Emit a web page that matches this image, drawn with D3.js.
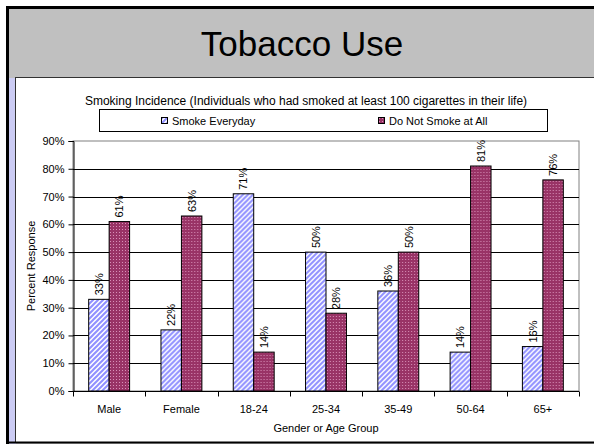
<!DOCTYPE html>
<html><head><meta charset="utf-8">
<script src="https://cdn.jsdelivr.net/npm/d3@7"></script>
<style>html,body{margin:0;padding:0;background:#fff;}svg{display:block;font-family:Arial,"Liberation Sans",sans-serif;}</style>
</head><body>
<svg id="c" width="594" height="444"></svg>
<script>
const categories = ["Male","Female","18-24","25-34","35-49","50-64","65+"];
const smokeEveryday = [33,22,71,50,36,14,16];
const doNotSmoke = [61,63,14,28,50,81,76];
const seriesNames = ["Smoke Everyday","Do Not Smoke at All"];
const yTicks = [0,10,20,30,40,50,60,70,80,90];
const titleText = "Tobacco Use";
const subtitleText = "Smoking Incidence (Individuals who had smoked at least 100 cigarettes in their life)";
const xTitle = "Gender or Age Group";
const yTitle = "Percent Response";

const svg = d3.select("#c");
const defs = svg.append("defs");
// hatch pattern for blue series
const ph = defs.append("pattern").attr("id","hatch").attr("patternUnits","userSpaceOnUse")
  .attr("width",5).attr("height",5);
ph.append("rect").attr("width",5).attr("height",5).attr("fill","#fff");
ph.append("path").attr("d","M-1,1 l2,-2 M0,5 l5,-5 M4,6 l2,-2").attr("stroke","#9090ff").attr("stroke-width",2);
// dotted pattern for red series
const pd = defs.append("pattern").attr("id","dots").attr("patternUnits","userSpaceOnUse")
  .attr("width",3).attr("height",3);
pd.append("rect").attr("width",3).attr("height",3).attr("fill","#993366");
pd.append("rect").attr("x",1).attr("y",1).attr("width",1).attr("height",1).attr("fill","#d890b8");
const fills = ["url(#hatch)","url(#dots)"];

// frame
svg.append("rect").attr("x",0).attr("y",0).attr("width",594).attr("height",444).attr("fill","#fff");
svg.append("rect").attr("x",7.5).attr("y",7.5).attr("width",600).attr("height",450)
  .attr("fill","#c0c0c0").attr("stroke","#000").attr("stroke-width",3);
svg.append("rect").attr("x",9).attr("y",78).attr("width",7).attr("height",366).attr("fill","#ccccf4");
svg.append("rect").attr("x",15.5).attr("y",77.5).attr("width",600).attr("height",365)
  .attr("fill","#fff").attr("stroke","#333").attr("stroke-width",1);
svg.append("line").attr("x1",7).attr("x2",594).attr("y1",442.5).attr("y2",442.5).attr("stroke","#000").attr("stroke-width",2);

svg.append("text").attr("x",302).attr("y",56).attr("text-anchor","middle")
  .attr("font-size",35).attr("fill","#000").text(titleText);

// plot
const L=73, R=579, T=141, B=391;
const y = d3.scaleLinear().domain([0,90]).range([B,T]);
const x0 = d3.scaleBand().domain(categories).range([L,R]).padding(0);
const x1 = d3.scaleBand().domain([0,1]).range([x0.bandwidth()*0.217, x0.bandwidth()*0.783]).padding(0);

const g = svg.append("g");
g.append("rect").attr("x",L).attr("y",T).attr("width",R-L).attr("height",B-T).attr("fill","#fff").attr("stroke","#808080");
g.selectAll(".grid").data(yTicks.filter(d=>d>0&&d<90)).join("line")
  .attr("x1",L).attr("x2",R).attr("y1",d=>Math.round(y(d))+0.5).attr("y2",d=>Math.round(y(d))+0.5)
  .attr("stroke","#000").attr("stroke-width",1);

const data = categories.map((c,i)=>({c, v:[smokeEveryday[i], doNotSmoke[i]]}));
const grp = g.selectAll(".grp").data(data).join("g").attr("transform",d=>`translate(${x0(d.c)},0)`);
grp.selectAll("rect").data(d=>d.v.map((v,k)=>({v,k}))).join("rect")
  .attr("x",d=>x1(d.k)).attr("width",x1.bandwidth())
  .attr("y",d=>y(d.v)).attr("height",d=>B-y(d.v))
  .attr("fill",d=>fills[d.k]).attr("stroke","#000").attr("stroke-width",1);
grp.selectAll("text").data(d=>d.v.map((v,k)=>({v,k}))).join("text")
  .attr("transform",d=>`translate(${x1(d.k)+x1.bandwidth()/2+4},${y(d.v)-4}) rotate(-90)`)
  .attr("font-size",11).attr("fill","#000").text(d=>d.v+"%");

// axes
const yAxis = d3.axisLeft(y).tickValues(yTicks).tickSize(5).tickPadding(4).tickFormat(d=>d+"%");
const ya = svg.append("g").attr("transform",`translate(${L+0.5},0)`).call(yAxis);
ya.select(".domain").attr("stroke","#000");
ya.selectAll("text").attr("font-size",11).attr("font-family","Arial, 'Liberation Sans', sans-serif").attr("fill","#000");
const xAxis = d3.axisBottom(x0).tickSize(0).tickPadding(14);
const xa = svg.append("g").attr("transform",`translate(0,${B+0.5})`).call(xAxis);
xa.select(".domain").attr("stroke","#000").attr("d",`M${L},0H${R}`);
xa.selectAll("text").attr("font-size",11).attr("font-family","Arial, 'Liberation Sans', sans-serif").attr("fill","#000");
xa.selectAll(".sep").data(d3.range(categories.length+1)).join("line")
  .attr("x1",i=>Math.round(L+i*x0.step())+0.5).attr("x2",i=>Math.round(L+i*x0.step())+0.5)
  .attr("y1",0).attr("y2",5).attr("stroke","#000");

svg.append("text").attr("x",(L+R)/2).attr("y",432).attr("text-anchor","middle").attr("font-size",11).text(xTitle);
svg.append("text").attr("transform",`translate(35,${(T+B)/2}) rotate(-90)`).attr("text-anchor","middle").attr("font-size",11).text(yTitle);
svg.append("text").attr("x",306).attr("y",105).attr("text-anchor","middle").attr("font-size",12).text(subtitleText);

// legend
svg.append("rect").attr("x",99.5).attr("y",109.5).attr("width",448).attr("height",22).attr("fill","#fff").attr("stroke","#000");
const legX = [161, 378];
seriesNames.forEach((n,k)=>{
  svg.append("rect").attr("x",legX[k]+0.5).attr("y",117.5).attr("width",6).attr("height",6).attr("fill",fills[k]).attr("stroke","#000");
  svg.append("text").attr("x",legX[k]+11).attr("y",125).attr("font-size",11).text(n);
});
</script>
</body></html>
